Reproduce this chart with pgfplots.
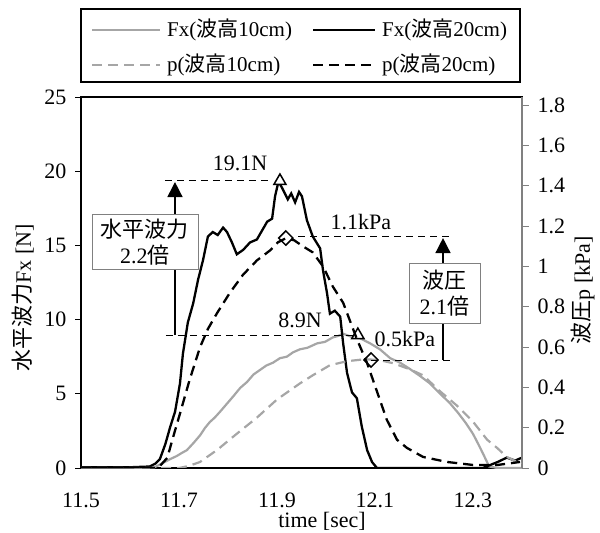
\documentclass[border=0pt]{standalone}
\usepackage{pgfplots}
\pgfplotsset{compat=1.18}
\usepackage{fontspec}
\setmainfont{Liberation Serif}
\newfontfamily\cjk{Noto Sans CJK JP}
\usetikzlibrary{arrows.meta}
\definecolor{lgray}{RGB}{166,166,166}
\definecolor{agray}{RGB}{128,128,128}
\newcommand{\J}[1]{{\cjk #1}}

\begin{document}
\begin{tikzpicture}[x=1pt,y=1pt,font=\fontsize{22}{26}\selectfont]
\useasboundingbox (0,0) rectangle (600,533);
\begin{axis}[
  at={(81pt,65pt)}, anchor=south west, scale only axis,
  width=441pt, height=371pt,
  xmin=11.5, xmax=12.4, ymin=0, ymax=25,
  xtick={11.5,11.7,11.9,12.1,12.3},
  xticklabels={11.5,11.7,11.9,12.1,12.3},
  ytick={0,5,10,15,20,25},
  yticklabels={0,5,10,15,20,25},
  ytick pos=left, xtick pos=bottom,
  tick align=outside,
  major tick length=6pt,
  x tick style={draw=none},
  y tick style={black, line width=0.9pt},
  axis line style={black, line width=2pt},
  tick label style={font=\fontsize{22}{26}\selectfont},
  /pgf/number format/assume math mode=true,
  xticklabel style={inner sep=0pt, yshift=-19pt},
  yticklabel style={xshift=-5pt},
]
% Fx 10cm (grey solid)
\addplot[lgray, line width=2.2pt] coordinates {
(11.50,0) (11.60,0) (11.65,0.05) (11.665,0.3) (11.682,0.6) (11.695,0.8) (11.705,1.0) (11.716,1.2)
(11.730,1.7) (11.743,2.2) (11.753,2.7) (11.763,3.1) (11.773,3.4) (11.784,3.8) (11.797,4.3)
(11.810,4.8) (11.825,5.4) (11.839,5.8) (11.852,6.3) (11.865,6.6) (11.878,6.9) (11.892,7.1)
(11.906,7.4) (11.920,7.5) (11.933,7.8) (11.947,8.0) (11.962,8.1) (11.982,8.4) (11.998,8.5)
(12.014,8.8) (12.025,8.9) (12.035,9.05) (12.043,8.95) (12.055,8.8) (12.069,8.75) (12.090,8.4)
(12.110,8.0) (12.131,7.4) (12.151,7.1) (12.170,6.7) (12.192,6.2) (12.212,5.7) (12.233,5.0)
(12.252,4.4) (12.270,3.7) (12.286,3.0) (12.300,2.3) (12.311,1.6) (12.320,1.0) (12.333,0.1)
(12.35,0) (12.40,0)};
% Fx 20cm (black solid)
\addplot[black, line width=2.3pt] coordinates {
(11.50,0.05) (11.55,0.05) (11.60,0.05) (11.64,0.1) (11.652,0.3) (11.661,0.6) (11.672,1.6)
(11.682,2.76) (11.692,3.8) (11.702,5.7) (11.708,7.7) (11.714,8.96) (11.718,9.8) (11.729,11.1)
(11.739,12.7) (11.749,14.0) (11.759,15.6) (11.769,15.9) (11.779,15.7) (11.790,16.2) (11.798,15.9)
(11.808,15.2) (11.818,14.4) (11.831,14.7) (11.845,15.2) (11.859,15.4) (11.866,15.8) (11.880,16.6)
(11.890,16.8) (11.896,18.3) (11.903,19.3) (11.910,18.9) (11.922,18.1) (11.929,18.5) (11.937,17.9)
(11.945,18.6) (11.951,18.3) (11.961,16.7) (11.973,15.6) (11.988,14.8) (11.994,13.3) (12.002,11.8)
(12.008,10.4) (12.018,10.6) (12.029,10.2) (12.035,8.4) (12.043,6.4) (12.053,5.1) (12.063,4.7)
(12.073,2.8) (12.084,1.2) (12.094,0.4) (12.104,0) (12.20,0) (12.32,0) (12.335,0.2) (12.35,0.4)
(12.369,0.7) (12.386,0.5) (12.40,0.7)};
% annotations on Fx axis
\addplot[black, line width=0.9pt, dash pattern=on 7pt off 5pt, forget plot] coordinates {(11.671,19.41) (11.886,19.41)};
\addplot[black, line width=0.9pt, dash pattern=on 7pt off 5pt, forget plot] coordinates {(11.673,8.96) (12.065,8.96)};
\addplot[black, line width=1.5pt, only marks, mark=triangle*, mark size=7pt,
  mark options={fill=white}, forget plot] coordinates {(11.906,19.34) (12.065,8.96)};
\draw[black, line width=1.5pt, -{Triangle[width=15pt,length=15pt]}]
  (axis cs:11.6918,8.96) -- (axis cs:11.6918,19.27);
\node[draw=agray, line width=0.9pt, fill=white, minimum width=106pt, minimum height=55pt,
  align=center, inner sep=0pt]
  at (axis cs:11.6306,15.2) {\J{水平波力}\\2.2\J{倍}};
\node at (axis cs:11.8245,20.55) {19.1N};
\node at (axis cs:11.947,9.97) {8.9N};
\end{axis}

\begin{axis}[
  at={(81pt,65pt)}, anchor=south west, scale only axis,
  width=441pt, height=371pt,
  xmin=11.5, xmax=12.4, ymin=0, ymax=1.841,
  axis x line=none,
  axis y line*=right,
  ytick={0,0.2,0.4,0.6,0.8,1,1.2,1.4,1.6,1.8},
  yticklabels={0,0.2,0.4,0.6,0.8,1,1.2,1.4,1.6,1.8},
  tick align=outside,
  major tick length=7pt,
  y tick style={agray, line width=0.9pt},
  y axis line style={agray, line width=1.6pt},
  tick label style={font=\fontsize{22}{26}\selectfont},
  /pgf/number format/assume math mode=true,
  yticklabel style={xshift=5pt},
]
% p 10cm (grey dashed)
\addplot[lgray, line width=2.2pt, dash pattern=on 10pt off 6pt] coordinates {
(11.50,0) (11.70,0) (11.72,0.01) (11.743,0.03) (11.778,0.09) (11.818,0.17) (11.859,0.25)
(11.900,0.34) (11.947,0.42) (11.973,0.46) (12.008,0.51) (12.043,0.53) (12.08,0.54) (12.110,0.535)
(12.137,0.52) (12.171,0.49) (12.198,0.46) (12.233,0.38) (12.267,0.31) (12.300,0.23) (12.329,0.14)
(12.349,0.10) (12.369,0.055) (12.39,0.03) (12.40,0.025)};
% p 20cm (black dashed)
\addplot[black, line width=2.3pt, dash pattern=on 10pt off 6pt] coordinates {
(11.50,0) (11.65,0) (11.661,0.01) (11.676,0.05) (11.690,0.17) (11.702,0.27) (11.722,0.44)
(11.743,0.60) (11.759,0.69) (11.778,0.77) (11.804,0.87) (11.831,0.96) (11.859,1.03) (11.886,1.08)
(11.902,1.12) (11.918,1.14) (11.935,1.13) (11.953,1.10) (11.973,1.07) (11.994,1.0) (12.014,0.90)
(12.035,0.82) (12.049,0.73) (12.063,0.64) (12.084,0.52) (12.104,0.38) (12.124,0.24) (12.145,0.14)
(12.165,0.10) (12.198,0.055) (12.247,0.03) (12.30,0.015) (12.35,0.015) (12.396,0.03)};
% annotations on p axis
\addplot[black, line width=0.9pt, dash pattern=on 7pt off 5pt, forget plot] coordinates {(11.943,1.151) (12.253,1.151)};
\addplot[black, line width=0.9pt, dash pattern=on 7pt off 5pt, forget plot] coordinates {(12.092,0.536) (12.257,0.536)};
\addplot[black, line width=1.5pt, only marks, mark=square, mark size=5pt,
  mark options={fill=white, rotate=45}, forget plot] coordinates {(11.918,1.141) (12.092,0.536)};
\draw[black, line width=1.5pt, -{Triangle[width=15pt,length=15pt]}]
  (axis cs:12.2388,1.017) -- (axis cs:12.2388,1.141);
\draw[black, line width=1.5pt] (axis cs:12.2388,0.72) -- (axis cs:12.2388,0.536);
\node[draw=agray, line width=0.9pt, fill=white, minimum width=71pt, minimum height=60pt,
  align=center, inner sep=0pt]
  at (axis cs:12.2418,0.868) {\J{波圧}\\2.1\J{倍}};
\node at (axis cs:12.071,1.221) {1.1kPa};
\node at (axis cs:12.161,0.640) {0.5kPa};
\end{axis}
% legend
\draw[black, line width=1.5pt] (81,451) rectangle (520,524);
\draw[lgray, line width=2.2pt] (92,503) -- (160,503);
\draw[black, line width=2.3pt] (313,503) -- (375,503);
\draw[lgray, line width=2.2pt, dash pattern=on 10pt off 6pt] (92,468) -- (160,468);
\draw[black, line width=2.3pt, dash pattern=on 10pt off 6pt] (313,468) -- (375,468);
\begin{scope}[font=\fontsize{21}{25}\selectfont]
\node[anchor=west, inner sep=0pt] at (167,503) {Fx(\J{波高}10cm)};
\node[anchor=west, inner sep=0pt] at (382,503) {Fx(\J{波高}20cm)};
\node[anchor=west, inner sep=0pt] at (167,468) {p(\J{波高}10cm)};
\node[anchor=west, inner sep=0pt] at (382,468) {p(\J{波高}20cm)};
\end{scope}
\node[inner sep=0pt] at (322,12) {time [sec]};
\node[rotate=90] at (23,235) {\J{水平波力}Fx [N]};
\node[rotate=90] at (583,243) {\J{波圧}p [kPa]};
\end{tikzpicture}
\end{document}
